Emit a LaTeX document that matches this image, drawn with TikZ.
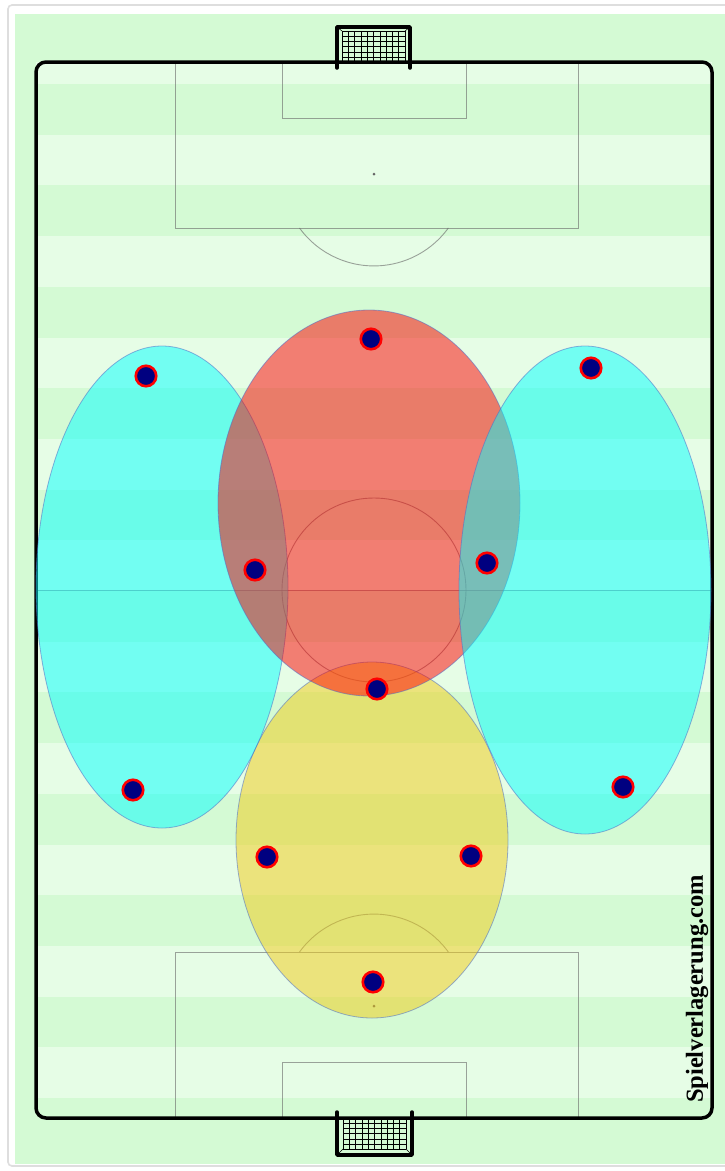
\documentclass[tikz,border=0pt]{standalone}
\usepackage{fontspec}
\newfontfamily\wmfont{Liberation Serif}
\definecolor{fieldDark}{RGB}{212,250,212}
\definecolor{fieldLight}{RGB}{230,253,230}
\definecolor{navyc}{RGB}{0,0,128}
\definecolor{zoneEdge}{RGB}{80,110,200}
\definecolor{zoneYellow}{RGB}{240,203,20}
\definecolor{zoneCyan}{RGB}{0,255,255}
\definecolor{zoneRed}{RGB}{255,0,0}
\definecolor{frameGray}{RGB}{222,222,222}
\begin{document}
\begin{tikzpicture}[x=1pt,y=-1pt,
  fieldline/.style={draw=black!60, line width=0.9pt, draw opacity=0.6},
  pitchline/.style={draw=black, line width=3.5pt, line cap=round, line join=round},
  netline/.style={draw=black, line width=0.55pt},
  zone/.style={draw=zoneEdge, line width=0.8pt, draw opacity=0.55, fill opacity=0.5},
  player/.style={circle, fill=navyc, draw=red, line width=2.6pt, minimum size=20.5pt, inner sep=0pt}]
\useasboundingbox (0,0) rectangle (725,1171);
\fill[white] (0,0) rectangle (725,1171);
\draw[frameGray, line width=1.6pt, rounded corners=4pt] (8,5) rectangle (740,1166);
\fill[fieldDark] (15,14) rectangle (725,1164);
% stripes
\begin{scope}
  \clip (36,62) rectangle (712,1118);
  \foreach \k in {0,...,10} {
    \fill[fieldLight] (36,{33.3+101.4*\k}) rectangle (712,{84+101.4*\k});
  }
\end{scope}
% markings
\draw[fieldline] (175,62) -- (175,228) -- (578,228) -- (578,62);
\draw[fieldline] (282,62) -- (282,118) -- (466,118) -- (466,62);
\draw[fieldline] (299.5,228) arc[start angle=144, end angle=36, radius=92];
\fill[black!60] (374,174) circle[radius=1.5];
\draw[fieldline] (36,590) -- (712,590);
\draw[fieldline] (374,590) circle[radius=92];
\draw[fieldline] (175,1118) -- (175,952) -- (578,952) -- (578,1118);
\draw[fieldline] (282,1118) -- (282,1062) -- (466,1062) -- (466,1118);
\draw[fieldline] (299.5,952) arc[start angle=-144, end angle=-36, radius=92];
\fill[black!60] (374,1006) circle[radius=1.5];
% pitch outline
\draw[pitchline, rounded corners=10pt] (36,62) rectangle (712,1118);
% top goal
\begin{scope}
  \foreach \i in {0,...,10} { \draw[netline] ({342+6.3*\i},31) -- ({342+6.3*\i},62); }
  \foreach \j in {0,...,5} { \draw[netline] (342,{31+5.2*\j}) -- (405,{31+5.2*\j}); }
  \draw[netline] (337,27) -- (342,31);
  \draw[netline] (410,27) -- (405,31);
\end{scope}
\draw[pitchline] (337,68) -- (337,27) -- (410,27) -- (410,68);
% bottom goal
\begin{scope}
  \foreach \i in {0,...,10} { \draw[netline] ({343+6.3*\i},1118) -- ({343+6.3*\i},1149); }
  \foreach \j in {0,...,6} { \draw[netline] (343,{1118+5.2*\j}) -- (406,{1118+5.2*\j}); }
  \draw[netline] (338,1154) -- (343,1149);
  \draw[netline] (411,1154) -- (406,1149);
\end{scope}
\draw[pitchline] (337,1112) -- (337,1155) -- (412,1155) -- (412,1112);
% zones
\draw[zone, fill=zoneYellow] (372,840) ellipse [x radius=136, y radius=178];
\draw[zone, fill=zoneCyan] (162,587) ellipse [x radius=126, y radius=241];
\draw[zone, fill=zoneRed] (369,503) ellipse [x radius=151, y radius=193];
\draw[zone, fill=zoneCyan] (585,590) ellipse [x radius=126, y radius=244];
% players
\node[player] (p1) at (371,339) {};
\node[player] (p2) at (146,376) {};
\node[player] (p3) at (591,368) {};
\node[player] (p4) at (255,570) {};
\node[player] (p5) at (487,563) {};
\node[player] (p6) at (377,689) {};
\node[player] (p7) at (133,790) {};
\node[player] (p8) at (623,787) {};
\node[player] (p9) at (267,857) {};
\node[player] (p10) at (471,856) {};
\node[player] (p11) at (373,982) {};
% watermark
\node[rotate=90, font=\wmfont\bfseries\fontsize{24.5}{24.5}\selectfont, inner sep=0pt] (wm) at (697,989) {Spielverlagerung.com};
\end{tikzpicture}
\end{document}
